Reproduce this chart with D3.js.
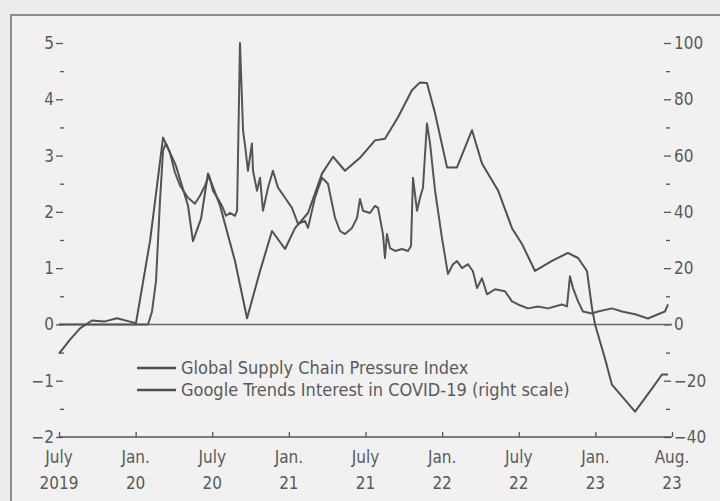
<!DOCTYPE html>
<html>
<head>
<meta charset="utf-8">
<script src="https://cdn.jsdelivr.net/npm/d3@7"></script>
<style>
html,body{margin:0;padding:0;background:#ececec;}
svg{display:block;}
text{font-family:'Liberation Sans Narrow','DejaVu Sans Condensed','Liberation Sans',sans-serif;fill:#5a5a5a;}
</style>
</head>
<body>
<svg id="chart" width="720" height="501"></svg>
<script>
// ---- Data (dates as decimal years) ----
const gscpiDates = [2019.500,2019.572,2019.637,2019.715,2019.794,2019.878,2019.963,2020.002,2020.094,2020.179,
  2020.263,2020.342,2020.374,2020.427,2020.472,2020.551,2020.648,2020.727,2020.812,2020.890,
  2020.975,2021.040,2021.125,2021.216,2021.288,2021.366,2021.464,2021.562,2021.627,2021.712,
  2021.803,2021.856,2021.901,2021.954,2022.032,2022.097,2022.195,2022.260,2022.365,2022.456,
  2022.521,2022.606,2022.717,2022.821,2022.887,2022.945,2022.978,2022.998,2023.063,2023.108,
  2023.259,2023.369,2023.435,2023.474];
const gscpiValues = [-0.52,-0.27,-0.07,0.07,0.05,0.11,0.05,0.02,1.48,3.32,
  2.82,2.11,1.48,1.88,2.68,2.11,1.13,0.11,0.95,1.66,
  1.34,1.71,1.98,2.68,2.98,2.73,2.96,3.27,3.30,3.68,
  4.16,4.30,4.29,3.75,2.79,2.79,3.45,2.86,2.38,1.71,
  1.43,0.95,1.13,1.27,1.18,0.95,0.29,0.00,-0.61,-1.07,
  -1.55,-1.14,-0.89,-0.89];

const trendsDates = [2019.500,2020.081,2020.107,2020.133,2020.159,2020.179,2020.198,2020.224,2020.257,2020.290,
  2020.342,2020.387,2020.420,2020.453,2020.479,2020.505,2020.538,2020.564,2020.590,2020.616,
  2020.648,2020.662,2020.681,2020.701,2020.714,2020.733,2020.759,2020.766,2020.792,2020.812,
  2020.831,2020.864,2020.896,2020.929,2020.975,2021.020,2021.060,2021.105,2021.125,2021.170,
  2021.216,2021.255,2021.301,2021.334,2021.366,2021.412,2021.445,2021.464,2021.484,2021.529,
  2021.562,2021.582,2021.614,2021.627,2021.640,2021.660,2021.693,2021.738,2021.777,2021.797,
  2021.810,2021.836,2021.856,2021.875,2021.901,2021.921,2021.954,2021.999,2022.038,2022.071,
  2022.097,2022.130,2022.169,2022.201,2022.228,2022.260,2022.293,2022.345,2022.410,2022.456,
  2022.495,2022.560,2022.626,2022.691,2022.782,2022.815,2022.834,2022.854,2022.887,2022.919,
  2022.978,2023.017,2023.108,2023.174,2023.259,2023.343,2023.409,2023.454,2023.474];
const trendsValues = [0,0,4.6,15.4,43.9,61.8,64.3,61.1,53.9,49.3,
  45.0,42.9,45.7,49.3,52.9,47.5,44.6,42.1,38.6,39.6,
  38.6,40.4,100,68.9,63.6,54.6,64.3,54.6,47.5,52.1,
  40.4,48.6,54.6,48.6,45.0,41.4,35.7,36.8,34.3,45.0,
  52.1,50.0,37.9,33.2,32.1,34.3,37.9,44.6,40.4,39.6,
  42.1,41.4,32.1,23.6,32.1,27.1,26.1,26.8,26.1,27.9,
  52.1,40.4,45.0,48.6,71.4,64.3,47.5,30.7,17.9,21.4,
  22.5,20.0,21.4,18.9,12.9,16.4,10.7,12.5,11.8,8.2,
  7.1,5.7,6.4,5.7,7.1,6.4,17.1,12.9,8.2,4.6,
  3.9,4.6,5.7,4.6,3.6,2.1,3.6,4.6,7.1];

const xTickValues = [2019.5,2020,2020.5,2021,2021.5,2022,2022.5,2023,2023.5];
const xTickLine1 = ["July","Jan.","July","Jan.","July","Jan.","July","Jan.","Aug."];
const xTickLine2 = ["2019","20","20","21","21","22","22","23","23"];
const leftTicks = [-2,-1,0,1,2,3,4,5];
const leftMinor = [-1.5,-0.5,0.5,1.5,2.5,3.5,4.5];
const rightTicks = [-40,-20,0,20,40,60,80,100];
const rightMinor = [-30,-10,10,30,50,70,90];
const seriesNames = ["Global Supply Chain Pressure Index","Google Trends Interest in COVID-19 (right scale)"];

// ---- Layout ----
const svg = d3.select("#chart");
const L = 59, R = 672, T = 43, B = 437;
const ink = "#555";

svg.append("rect").attr("width",720).attr("height",501).attr("fill","#ececec");
svg.append("rect").attr("x",12).attr("y",16).attr("width",720).attr("height",500).attr("fill","#f1f1f1");
svg.append("path").attr("d","M11,501 V15 H720").attr("fill","none").attr("stroke","#8c8c8c").attr("stroke-width",2);

const x = d3.scaleLinear().domain([2019.5,2023.5]).range([L,R]);
const yL = d3.scaleLinear().domain([-2,5]).range([B,T]);
const yR = d3.scaleLinear().domain([-40,100]).range([B,T]);
const fmt = d => d<0 ? "\u2212"+Math.abs(d) : d;

// left axis
const gl = svg.append("g").attr("transform",`translate(${L+4},0)`)
  .call(d3.axisLeft(yL).tickValues(leftTicks).tickSize(7).tickPadding(2).tickFormat(fmt));
gl.select(".domain").remove();
gl.selectAll("line").attr("stroke",ink).attr("stroke-width",1.3);
gl.selectAll("text").attr("font-size",17).attr("fill",ink).style("font-family",null);
const glm = svg.append("g").attr("transform",`translate(${L+5},0)`)
  .call(d3.axisLeft(yL).tickValues(leftMinor).tickSize(4).tickFormat(""));
glm.select(".domain").remove();
glm.selectAll("line").attr("stroke",ink).attr("stroke-width",1.3);

// right axis
const gr = svg.append("g").attr("transform",`translate(${R-8},0)`)
  .call(d3.axisRight(yR).tickValues(rightTicks).tickSize(7).tickPadding(3).tickFormat(fmt));
gr.select(".domain").remove();
gr.selectAll("line").attr("stroke",ink).attr("stroke-width",1.3);
gr.selectAll("text").attr("font-size",17).attr("fill",ink).style("font-family",null);
const grm = svg.append("g").attr("transform",`translate(${R-6},0)`)
  .call(d3.axisRight(yR).tickValues(rightMinor).tickSize(4).tickFormat(""));
grm.select(".domain").remove();
grm.selectAll("line").attr("stroke",ink).attr("stroke-width",1.3);

// bottom axis
const gb = svg.append("g").attr("transform",`translate(0,${B})`)
  .call(d3.axisTop(x).tickValues(xTickValues).tickSize(5).tickFormat(""));
gb.select(".domain").remove();
gb.selectAll("line").attr("stroke",ink).attr("stroke-width",1.3);
svg.append("line").attr("x1",L).attr("x2",R).attr("y1",B).attr("y2",B).attr("stroke",ink).attr("stroke-width",1.6);
const lab = svg.append("g");
xTickValues.forEach((v,i) => {
  const t = lab.append("text").attr("text-anchor","middle").attr("font-size",17).attr("fill",ink);
  t.append("tspan").attr("x",x(v)).attr("y",B+26).text(xTickLine1[i]);
  t.append("tspan").attr("x",x(v)).attr("y",B+52).text(xTickLine2[i]);
});

// zero line
svg.append("line").attr("x1",L).attr("x2",R).attr("y1",yL(0)).attr("y2",yL(0)).attr("stroke","#666").attr("stroke-width",1.6);

// series
const gscpi = gscpiDates.map((d,i)=>[d,gscpiValues[i]]);
const trends = trendsDates.map((d,i)=>[d,trendsValues[i]]);
svg.append("path").datum(trends).attr("fill","none").attr("stroke","#555").attr("stroke-width",2).attr("stroke-linejoin","round")
  .attr("d", d3.line().x(d=>x(d[0])).y(d=>yR(d[1])));
svg.append("path").datum(gscpi).attr("fill","none").attr("stroke","#505050").attr("stroke-width",2).attr("stroke-linejoin","round")
  .attr("d", d3.line().x(d=>x(d[0])).y(d=>yL(d[1])));

// legend
const lg = svg.append("g");
seriesNames.forEach((n,i) => {
  const yy = 368 + i*22;
  lg.append("line").attr("x1",137).attr("x2",176).attr("y1",yy).attr("y2",yy).attr("stroke","#505050").attr("stroke-width",2.4);
  lg.append("text").attr("x",181).attr("y",yy+6).attr("font-size",18).attr("fill",ink).text(n);
});
</script>
</body>
</html>
